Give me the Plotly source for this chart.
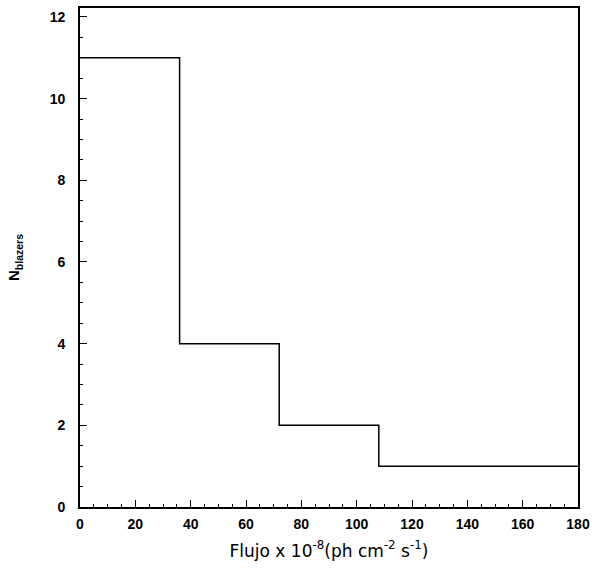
import plotly.graph_objects as go

bin_edges = [0, 36, 72, 108, 144, 180]
counts = [11, 4, 2, 1, 1]

x_vals = bin_edges
y_vals = counts + [counts[-1]]

fig = go.Figure()
fig.add_trace(go.Scatter(
    x=x_vals, y=y_vals, mode="lines", line_shape="hv",
    line=dict(color="black", width=1.5), showlegend=False, hoverinfo="skip",
))

tickfont = dict(family="Liberation Sans, Arial, sans-serif", size=14, color="black", weight="bold")

fig.update_layout(
    width=592, height=575,
    margin=dict(l=80, r=14, t=8, b=68),
    paper_bgcolor="white", plot_bgcolor="white",
    xaxis=dict(
        range=[0, 180], tick0=0, dtick=20, ticks="inside", ticklen=7, tickwidth=1.2,
        tickcolor="black", showline=True, linecolor="black", linewidth=1.8, mirror=True,
        showgrid=False, zeroline=False, automargin=False,
        tickfont=tickfont, ticklabelstandoff=3,
        minor=dict(ticks="inside", ticklen=3.5, dtick=5, tickcolor="black", tickwidth=1, showgrid=False),
        title=dict(text="Flujo x 10<sup>-8</sup>(ph cm<sup>-2</sup> s<sup>-1</sup>)",
                   font=dict(family="DejaVu Sans, sans-serif", size=17, color="black"),
                   standoff=14),
    ),
    yaxis=dict(
        range=[0, 12.22], tick0=0, dtick=2, ticks="inside", ticklen=7, tickwidth=1.2,
        tickcolor="black", showline=True, linecolor="black", linewidth=1.8, mirror=True,
        showgrid=False, zeroline=False, automargin=False,
        tickfont=tickfont, ticklabelstandoff=10,
        minor=dict(ticks="inside", ticklen=3.5, dtick=0.5, tickcolor="black", tickwidth=1, showgrid=False),
        title=dict(text="N<sub>blazers</sub>",
                   font=dict(family="Liberation Sans, Arial, sans-serif", size=15, color="black", weight="bold"),
                   standoff=26),
    ),
)

fig.write_html("out.html")
